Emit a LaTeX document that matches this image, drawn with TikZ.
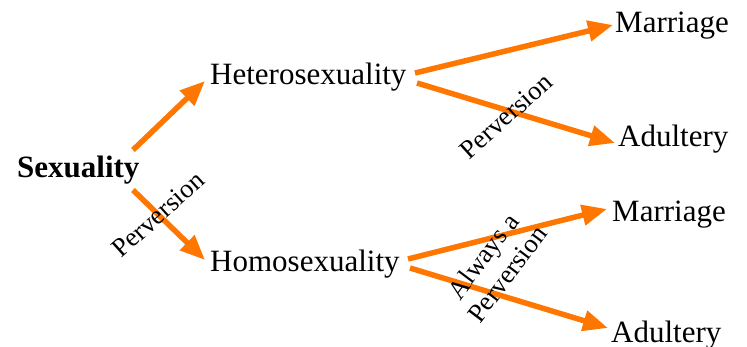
\documentclass[tikz,border=0pt]{standalone}
\usepackage{fontspec}
\setmainfont{Liberation Serif}
\usetikzlibrary{arrows.meta}
\definecolor{arrorange}{RGB}{255,119,0}
\begin{document}
\begin{tikzpicture}[x=1pt,y=-1pt,
  lbl/.style={inner sep=0pt, anchor=base west, font=\fontsize{31}{36}\selectfont},
  side/.style={inner sep=0pt, font=\fontsize{26.5}{30}\selectfont, align=center},
  arr/.style={draw=arrorange, line width=5.5pt, -{Triangle[length=25pt,width=20pt]}}]
\useasboundingbox (0,0) rectangle (747,347);
\node[lbl, font=\fontsize{31}{36}\selectfont\bfseries] (sex) at (17,178) {Sexuality};
\node[lbl] (het) at (210,85) {Heterosexuality};
\node[lbl] (hom) at (210,272) {Homosexuality};
\node[lbl] (mar1) at (615,33) {Marriage};
\node[lbl] (adu1) at (618,147) {Adultery};
\node[lbl] (mar2) at (612,222) {Marriage};
\node[lbl] (adu2) at (611,342) {Adultery};
\draw[arr] ([shift={(116,-28)}]sex.base west) -- ([shift={(-5,-4)}]het.base west);
\draw[arr] ([shift={(116,12)}]sex.base west) -- node[side, pos=0.35, rotate=42] (p1) {Perversion} ([shift={(-5,-12)}]hom.base west);
\draw[arr] ([shift={(205,-12)}]het.base west) -- ([shift={(-2,-8)}]mar1.base west);
\draw[arr] ([shift={(207,-2)}]het.base west) -- node[side, pos=0.45, yshift=-6pt, rotate=42] (p2) {Perversion} ([shift={(-3,-4)}]adu1.base west);
\draw[arr] ([shift={(198,-13)}]hom.base west) -- ([shift={(-5,-13)}]mar2.base west);
\draw[arr] ([shift={(200,-4)}]hom.base west) -- ([shift={(-3,-14)}]adu2.base west);
\node[side, rotate=53] (p3) at ([shift={(285,-7)}]hom.base west) {Always a\\Perversion};
\end{tikzpicture}
\end{document}
